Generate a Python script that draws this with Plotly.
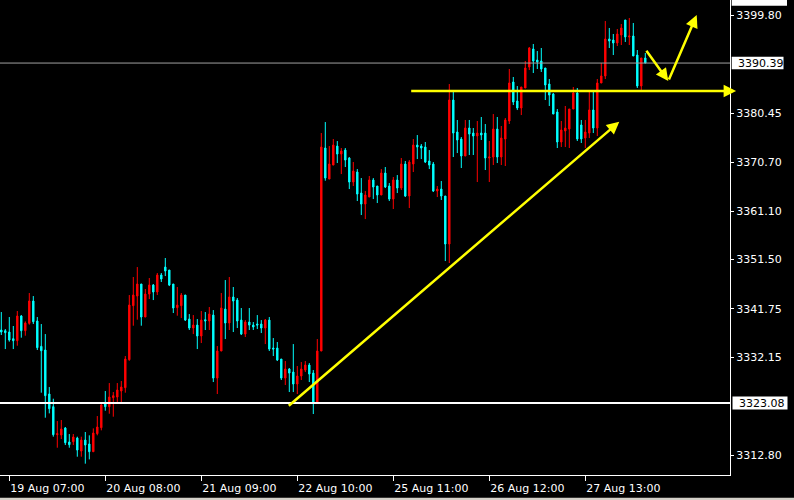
import plotly.graph_objects as go

# ---------------- data ----------------
opens = [3337.55, 3337.41, 3337.15, 3335.83, 3335.43, 3340.32, 3337.41, 3338.87, 3343.29, 3339.33,
         3334.31, 3333.59, 3324.88, 3322.37, 3316.83, 3316.76, 3318.15, 3315.38, 3315.44, 3316.17,
         3313.59, 3315.77, 3314.98, 3313.46, 3317.03, 3318.21, 3322.90, 3322.37, 3324.15, 3324.28,
         3325.47, 3326.13, 3331.67, 3342.36, 3344.27, 3346.65, 3340.12, 3344.67, 3346.45, 3345.07,
         3348.43, 3350.01, 3349.42, 3346.65, 3341.97, 3342.36, 3344.47, 3339.72, 3337.94, 3338.53,
         3336.36, 3339.59, 3339.33, 3340.51, 3328.04, 3333.39, 3341.70, 3338.93, 3344.08, 3343.48,
         3339.52, 3336.75, 3339.13, 3338.53, 3338.73, 3338.73, 3337.94, 3339.52, 3333.98, 3333.98,
         3331.80, 3328.04, 3329.83, 3329.23, 3326.86, 3328.44, 3329.63, 3330.62, 3329.03, 3323.10,
         3333.39, 3373.57, 3367.43, 3370.20, 3373.96, 3372.38, 3373.17, 3371.59, 3366.84, 3368.82,
         3364.66, 3362.48, 3363.87, 3367.24, 3366.05, 3364.27, 3368.62, 3366.05, 3363.47, 3367.24,
         3365.65, 3370.40, 3364.07, 3370.40, 3374.16, 3373.96, 3373.77, 3371.00, 3370.40, 3365.06,
         3365.45, 3364.07, 3354.57, 3383.07, 3376.74, 3375.35, 3371.99, 3377.53, 3376.54, 3375.95,
         3376.54, 3376.54, 3371.59, 3371.79, 3377.33, 3371.79, 3375.35, 3378.92, 3386.64, 3382.88,
         3381.49, 3385.45, 3389.61, 3393.17, 3390.99, 3390.79, 3389.41, 3386.24, 3384.26, 3380.70,
         3374.76, 3376.94, 3377.34, 3381.29, 3384.46, 3378.13, 3375.55, 3376.54, 3381.10, 3377.53,
         3386.44, 3387.83, 3395.15, 3394.95, 3394.36, 3395.94, 3398.91, 3395.55, 3395.74, 3391.98,
         3385.85, 3391.39]
highs = [3341.11, 3337.74, 3340.12, 3338.34, 3341.31, 3340.51, 3339.26, 3344.87, 3344.27, 3340.12,
         3338.73, 3336.75, 3326.26, 3323.95, 3319.53, 3319.73, 3318.35, 3316.96, 3316.96, 3316.43,
         3316.43, 3317.36, 3316.70, 3318.08, 3320.52, 3323.29, 3325.47, 3327.05, 3325.27, 3327.05,
         3327.45, 3332.40, 3344.47, 3348.04, 3350.01, 3346.65, 3345.66, 3347.84, 3346.65, 3348.83,
         3348.83, 3351.80, 3349.42, 3346.65, 3346.06, 3344.87, 3344.47, 3340.71, 3340.51, 3339.72,
         3341.31, 3341.11, 3342.10, 3341.50, 3334.38, 3344.87, 3347.44, 3348.04, 3346.06, 3343.88,
         3341.90, 3339.52, 3341.90, 3339.13, 3340.51, 3339.52, 3339.72, 3340.12, 3335.96, 3335.17,
         3331.80, 3331.41, 3330.02, 3334.77, 3330.42, 3331.21, 3331.41, 3331.01, 3329.63, 3335.76,
         3376.54, 3378.71, 3373.96, 3375.35, 3374.95, 3373.57, 3373.57, 3371.79, 3370.80, 3369.41,
         3367.63, 3365.06, 3368.03, 3367.63, 3366.05, 3369.41, 3369.81, 3366.64, 3367.83, 3368.22,
         3371.59, 3371.00, 3371.19, 3375.35, 3376.14, 3374.36, 3374.76, 3373.17, 3370.80, 3366.05,
         3367.04, 3364.07, 3386.24, 3384.86, 3379.12, 3375.75, 3379.12, 3379.12, 3377.53, 3378.92,
         3379.71, 3378.32, 3374.96, 3380.30, 3379.71, 3377.93, 3379.51, 3389.21, 3387.63, 3385.84,
         3385.65, 3390.79, 3393.56, 3394.16, 3392.77, 3393.37, 3389.41, 3387.23, 3384.46, 3381.29,
         3378.92, 3381.89, 3381.29, 3385.65, 3385.45, 3379.12, 3379.12, 3384.86, 3384.66, 3387.23,
         3390.40, 3398.71, 3397.33, 3396.14, 3397.13, 3398.12, 3398.91, 3399.31, 3398.32, 3392.97,
         3391.39, 3392.38]
lows = [3336.56, 3333.78, 3335.24, 3333.78, 3334.44, 3336.03, 3336.42, 3338.60, 3338.73, 3333.59,
        3325.14, 3320.19, 3321.05, 3316.43, 3314.25, 3315.97, 3314.78, 3314.25, 3314.78, 3312.47,
        3312.47, 3311.09, 3311.94, 3313.46, 3316.70, 3317.69, 3321.58, 3320.98, 3320.39, 3323.10,
        3323.10, 3325.14, 3331.47, 3338.40, 3339.59, 3338.40, 3340.12, 3343.68, 3343.48, 3344.47,
        3347.05, 3348.23, 3346.25, 3340.91, 3340.38, 3339.92, 3339.33, 3337.55, 3336.75, 3333.78,
        3334.97, 3337.55, 3337.55, 3327.25, 3324.88, 3333.39, 3335.76, 3337.55, 3337.15, 3337.94,
        3336.56, 3336.16, 3337.55, 3337.55, 3337.74, 3336.95, 3334.77, 3333.39, 3332.40, 3331.41,
        3327.65, 3326.66, 3325.27, 3325.27, 3324.88, 3327.65, 3329.23, 3327.25, 3320.92, 3323.10,
        3333.39, 3367.10, 3367.43, 3370.20, 3370.60, 3368.42, 3369.81, 3365.45, 3366.05, 3363.08,
        3360.31, 3359.51, 3363.87, 3363.47, 3362.68, 3364.27, 3365.65, 3363.08, 3361.50, 3364.66,
        3365.26, 3363.87, 3361.69, 3368.82, 3371.39, 3371.39, 3370.60, 3369.41, 3364.86, 3363.87,
        3363.28, 3351.20, 3350.81, 3371.79, 3372.58, 3369.61, 3371.99, 3372.19, 3372.19, 3366.84,
        3375.16, 3369.22, 3366.84, 3370.21, 3370.60, 3370.21, 3370.01, 3378.32, 3382.08, 3381.09,
        3380.10, 3385.45, 3389.01, 3388.42, 3389.21, 3388.62, 3383.07, 3381.89, 3380.30, 3373.57,
        3373.77, 3373.77, 3373.57, 3381.29, 3374.96, 3374.56, 3373.57, 3375.55, 3376.54, 3375.95,
        3386.44, 3387.23, 3393.37, 3391.98, 3393.76, 3393.96, 3394.56, 3393.96, 3391.79, 3385.45,
        3385.06, 3390.39]
closes = [3337.15, 3337.02, 3335.57, 3335.43, 3340.32, 3337.41, 3338.93, 3343.29, 3339.19, 3334.05,
          3333.45, 3324.55, 3321.97, 3316.83, 3317.03, 3317.95, 3315.24, 3314.85, 3316.37, 3313.79,
          3315.77, 3314.78, 3313.46, 3317.16, 3318.35, 3322.70, 3322.37, 3324.28, 3324.55, 3325.67,
          3326.26, 3331.80, 3342.49, 3344.47, 3346.65, 3340.12, 3344.67, 3346.45, 3345.07, 3348.43,
          3347.64, 3349.22, 3346.45, 3341.90, 3342.49, 3344.47, 3339.52, 3337.94, 3338.53, 3336.36,
          3339.52, 3339.33, 3340.71, 3328.04, 3333.39, 3341.90, 3338.93, 3344.08, 3343.29, 3339.33,
          3336.75, 3339.13, 3338.53, 3338.14, 3338.53, 3337.94, 3339.52, 3333.78, 3333.78, 3331.61,
          3328.04, 3329.83, 3329.03, 3326.86, 3328.44, 3329.83, 3330.62, 3328.84, 3323.10, 3333.39,
          3373.77, 3367.63, 3370.40, 3374.16, 3372.38, 3372.98, 3371.19, 3366.84, 3369.02, 3364.46,
          3362.48, 3364.27, 3367.24, 3365.85, 3364.27, 3368.62, 3365.85, 3363.47, 3367.24, 3365.65,
          3370.40, 3364.07, 3370.80, 3374.16, 3373.77, 3373.57, 3370.80, 3370.20, 3365.06, 3365.45,
          3364.07, 3354.57, 3383.07, 3376.54, 3375.16, 3371.99, 3377.53, 3376.34, 3375.95, 3376.54,
          3376.15, 3371.59, 3371.79, 3377.33, 3371.79, 3375.55, 3379.12, 3386.44, 3382.68, 3381.49,
          3385.65, 3389.41, 3393.37, 3390.79, 3390.60, 3389.21, 3386.04, 3384.06, 3380.30, 3374.76,
          3377.14, 3377.53, 3381.29, 3384.46, 3375.36, 3375.36, 3376.74, 3381.10, 3377.53, 3386.44,
          3387.83, 3395.15, 3394.75, 3394.36, 3396.14, 3397.33, 3395.55, 3395.74, 3391.79, 3385.85,
          3391.39, 3390.39]
bar_index = list(range(len(opens)))

time_tick_pos = [2, 26, 50, 74, 98, 122, 146]
time_tick_text = ["19 Aug 07:00", "20 Aug 08:00", "21 Aug 09:00", "22 Aug 10:00",
                  "25 Aug 11:00", "26 Aug 12:00", "27 Aug 13:00"]
price_ticks = [3399.80, 3380.45, 3370.70, 3361.10, 3351.50, 3341.75, 3332.15, 3312.80]
support_level = 3323.08
bid_level = 3390.39
top_level = 3403.69
resistance_level = 3384.86

# trend arrow (bar index, price)
trend_start = (71.5, 3322.31)
trend_end = (154.5, 3378.78)
zig_a = (161.0, 3393.11)
zig_b = (166.75, 3386.83)
zig_c = (173.85, 3399.90)
hline_start = 102.1
hline_end = 183.7

# ---------------- figure ----------------
YMIN, YMAX = 3308.85, 3402.87
XMIN, XMAX = -0.325, 182.175
PLOT_W, PLOT_H = 730, 475
FONT = "DejaVu Sans"


def py(p):
    return (p - YMIN) / (YMAX - YMIN)


def px(x_pixel):
    return x_pixel / PLOT_W


fig = go.Figure()
fig.add_trace(go.Candlestick(
    x=bar_index, open=opens, high=highs, low=lows, close=closes,
    increasing=dict(line=dict(color="#FF0000", width=1), fillcolor="#FF0000"),
    decreasing=dict(line=dict(color="#00FFFF", width=1), fillcolor="#00FFFF"),
    whiskerwidth=0, hoverinfo="skip", showlegend=False,
))

shapes = [
    # support line (white) and bid line (gray)
    dict(type="line", xref="paper", yref="y", x0=0, x1=1, y0=support_level, y1=support_level,
         line=dict(color="#FFFFFF", width=2), layer="above"),
    dict(type="line", xref="paper", yref="y", x0=0, x1=1, y0=bid_level, y1=bid_level,
         line=dict(color="#A0A0A0", width=1), layer="above"),
    # label boxes on the price scale
    dict(type="rect", xref="paper", yref="paper", x0=px(731.7), x1=px(783.5),
         y0=py(bid_level) - 6.2 / PLOT_H, y1=py(bid_level) + 6.2 / PLOT_H,
         fillcolor="#FFFFFF", line=dict(width=0), layer="above"),
    dict(type="rect", xref="paper", yref="paper", x0=px(732.5), x1=px(787.5),
         y0=py(support_level) - 6.5 / PLOT_H, y1=py(support_level) + 6.5 / PLOT_H,
         fillcolor="#FFFFFF", line=dict(width=0), layer="above"),
    dict(type="rect", xref="paper", yref="paper", x0=px(731.7), x1=px(787),
         y0=1 - 5.7 / PLOT_H, y1=1 + 8 / PLOT_H,
         fillcolor="#FFFFFF", line=dict(width=0), layer="above"),
    # window frame strip at the bottom
    dict(type="rect", xref="paper", yref="paper", x0=0, x1=794 / PLOT_W,
         y0=1 - 500 / PLOT_H, y1=1 - 497.8 / PLOT_H,
         fillcolor="#D4D0C8", line=dict(width=0), layer="above"),
]

annotations = [
    dict(text=f"{bid_level:.2f}", xref="paper", yref="y", x=px(735.5), y=bid_level,
         xanchor="left", yanchor="middle", showarrow=False,
         font=dict(family=FONT, size=11, color="#000000")),
    dict(text=f"{support_level:.2f}", xref="paper", yref="y", x=px(736.5), y=support_level,
         xanchor="left", yanchor="middle", showarrow=False,
         font=dict(family=FONT, size=11, color="#000000")),
    dict(text=f"{top_level:.2f}", xref="paper", yref="paper", x=px(735.5), y=1 - 5.0 / PLOT_H,
         xanchor="left", yanchor="bottom", showarrow=False,
         font=dict(family=FONT, size=11, color="#000000")),
    dict(text="9", xref="paper", yref="paper", x=px(4), y=1 + 5 / PLOT_H,
         xanchor="right", yanchor="middle", showarrow=False,
         font=dict(family=FONT, size=11, color="#FFFFFF")),
]

arrow_style = dict(showarrow=True, text="", arrowcolor="#FFFF00", arrowhead=2,
                   arrowsize=1.0, arrowwidth=2.5, standoff=0, startstandoff=0,
                   xref="x", yref="y", axref="x", ayref="y")
annotations.append(dict(x=trend_end[0], y=trend_end[1], ax=trend_start[0], ay=trend_start[1], **arrow_style))
annotations.append(dict(x=zig_b[0], y=zig_b[1], ax=zig_a[0], ay=zig_a[1], **arrow_style))
annotations.append(dict(x=zig_c[0], y=zig_c[1], ax=zig_b[0], ay=zig_b[1], **arrow_style))
annotations.append(dict(x=hline_end, y=resistance_level, ax=hline_start, ay=resistance_level, **arrow_style))

fig.update_layout(
    width=794, height=500,
    margin=dict(l=0, r=64, t=0, b=25, autoexpand=False),
    paper_bgcolor="#000000", plot_bgcolor="#000000",
    boxgap=0.5,
    showlegend=False,
    shapes=shapes,
    annotations=annotations,
    font=dict(family=FONT, size=11, color="#FFFFFF"),
    xaxis=dict(
        range=[XMIN, XMAX], showgrid=False, zeroline=False,
        showline=True, linecolor="#FFFFFF", linewidth=1,
        ticks="outside", ticklen=5, tickcolor="#FFFFFF", tickwidth=1,
        tickvals=time_tick_pos, ticktext=time_tick_text,
        ticklabelposition="outside right", ticklabelstandoff=3,
        tickfont=dict(family=FONT, size=11, color="#FFFFFF"),
        rangeslider=dict(visible=False), fixedrange=True, automargin=False,
    ),
    yaxis=dict(
        side="right", range=[YMIN, YMAX], showgrid=False, zeroline=False,
        showline=True, linecolor="#FFFFFF", linewidth=1,
        ticks="outside", ticklen=3, tickcolor="#FFFFFF", tickwidth=1,
        tickvals=price_ticks, ticktext=[f"{v:.2f}" for v in price_ticks],
        tickfont=dict(family=FONT, size=11, color="#FFFFFF"),
        fixedrange=True, automargin=False,
    ),
)

fig.write_html(
    "out.html",
    config={"displayModeBar": False},
    post_script="document.body.style.margin='0';document.body.style.background='#000';",
)
